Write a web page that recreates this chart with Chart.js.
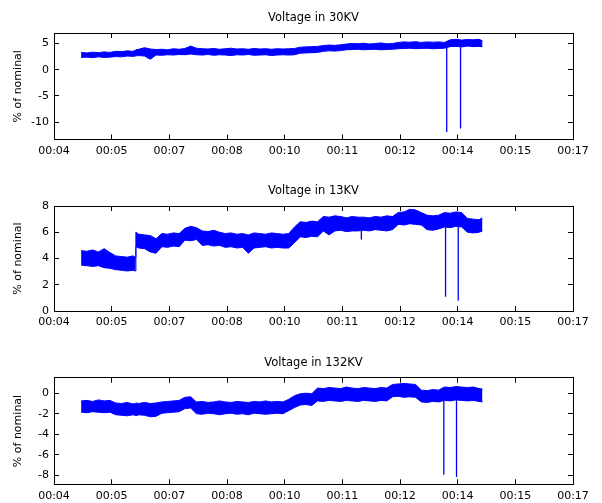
<!DOCTYPE html>
<html><head><meta charset="utf-8">
<script src="https://cdn.jsdelivr.net/npm/chart.js@4"></script>
<style>
html,body{margin:0;padding:0;background:#fff;width:602px;height:503px;overflow:hidden}
canvas{position:absolute;left:0}
</style>
</head><body>
<canvas id="c1" width="602" height="170" style="top:0px"></canvas>
<canvas id="c2" width="602" height="167" style="top:173px"></canvas>
<canvas id="c3" width="602" height="158" style="top:345px"></canvas>
<script>
// ---- data ----
const xTickVals = [0,1,2,3,4,5,6,7,8,9];
const xTickLabels = ['00:04','00:05','00:07','00:08','00:10','00:11','00:12','00:14','00:15','00:17'];

const t = [0.47,0.57,0.67,0.77,0.87,0.97,1.07,1.17,1.27,1.37,1.41,1.42,1.47,1.57,1.67,1.77,1.87,1.97,2.07,2.17,2.27,2.37,2.47,2.57,2.67,2.77,2.87,2.97,3.07,3.17,3.27,3.37,3.47,3.57,3.67,3.77,3.87,3.97,4.07,4.17,4.27,4.37,4.47,4.57,4.67,4.77,4.87,4.97,5.07,5.17,5.27,5.37,5.47,5.57,5.67,5.77,5.87,5.97,6.07,6.17,6.27,6.37,6.47,6.57,6.67,6.77,6.87,6.97,7.07,7.17,7.27,7.37,7.43];

// 30KV band (upper / lower edge)
const hi30 = [3.3,3.2,3.35,3.25,3.4,3.3,3.5,3.45,3.6,3.5,3.7,3.8,3.9,4.2,3.95,3.85,3.9,3.8,4.0,3.9,4.05,4.5,4.1,4.0,3.95,4.05,3.9,4.0,4.1,3.95,4.0,3.9,4.05,3.95,4.0,3.9,4.0,3.95,4.0,4.05,4.3,4.35,4.4,4.45,4.6,4.7,4.65,4.75,4.9,5.0,4.95,5.05,4.9,5.0,5.1,4.95,5.0,5.2,5.3,5.25,5.35,5.2,5.3,5.25,5.3,5.2,5.7,5.8,5.65,5.75,5.7,5.8,5.5];
const lo30 = [2.35,2.4,2.3,2.45,2.35,2.4,2.5,2.45,2.6,2.55,2.6,2.65,2.7,2.6,2.0,2.8,2.75,2.85,2.8,2.9,2.85,3.0,2.85,2.8,2.9,2.75,2.85,2.8,2.7,2.85,2.8,2.9,2.75,2.8,2.85,2.7,2.8,2.85,2.8,2.85,3.15,3.2,3.25,3.3,3.5,3.6,3.55,3.65,3.8,3.85,3.9,3.8,3.85,3.9,3.8,3.85,3.9,4.0,4.05,4.1,4.0,4.05,4.1,4.0,4.05,4.1,4.4,4.45,4.35,4.5,4.4,4.45,4.4];
const spikeT30 = [6.81, 7.05];
const spikeTop30 = [4.6, 4.8];
const spikeBot30 = [-11.85, -11.2];

// 13KV band
const hi13 = [4.6,4.55,4.65,4.5,4.75,4.45,4.2,4.15,4.1,4.2,4.1,6.0,5.85,5.8,5.75,5.5,5.9,5.85,5.95,5.9,6.3,6.45,6.35,6.1,6.05,6.15,6.0,5.9,5.95,5.85,5.9,5.8,5.95,5.9,5.85,5.95,5.9,5.85,5.9,6.4,6.8,6.75,6.85,6.8,7.2,7.15,7.25,7.2,7.1,7.2,7.15,7.15,7.1,7.2,7.15,7.25,7.2,7.5,7.55,7.75,7.7,7.5,7.3,7.25,7.3,7.5,7.45,7.55,7.5,7.05,7.0,6.95,7.1];
const lo13 = [3.5,3.45,3.4,3.45,3.3,3.25,3.15,3.1,3.05,3.1,3.05,4.9,4.8,4.75,4.5,4.4,4.9,4.85,4.95,4.9,5.4,5.35,5.45,5.0,5.05,4.95,5.0,4.85,4.9,4.8,4.85,4.4,4.8,4.85,4.9,4.8,4.85,4.8,4.8,5.2,5.65,5.6,5.7,5.65,6.1,5.8,6.1,6.15,6.05,6.1,6.1,6.15,6.1,6.2,6.15,6.1,6.2,6.6,6.55,6.65,6.6,6.55,6.2,6.15,6.25,6.4,6.35,6.45,6.4,6.0,5.95,6.0,6.1];
const spikeT13 = [5.33, 6.79, 7.01];
const spikeTop13 = [6.2, 6.6, 6.6];
const spikeBot13 = [5.45, 1.09, 0.78];

// 132KV band
const hi132 = [-0.75,-0.7,-0.8,-0.65,-0.75,-0.7,-0.95,-1.0,-0.9,-1.05,-1.0,-0.95,-1.0,-0.9,-1.0,-0.95,-0.85,-0.8,-0.75,-0.7,-0.4,-0.35,-0.85,-0.8,-0.9,-0.85,-0.75,-0.85,-0.9,-0.8,-0.85,-0.9,-0.8,-0.85,-0.75,-0.85,-0.8,-0.85,-0.6,-0.25,-0.05,0.0,-0.05,0.5,0.45,0.55,0.5,0.45,0.6,0.5,0.45,0.55,0.5,0.45,0.55,0.5,0.85,0.9,0.95,0.9,0.85,0.3,0.25,0.35,0.3,0.6,0.55,0.65,0.6,0.55,0.6,0.45,0.4];
const lo132 = [-1.85,-1.9,-1.8,-1.85,-1.9,-1.85,-2.1,-2.15,-2.2,-2.1,-2.15,-2.2,-2.1,-2.15,-2.3,-2.25,-1.95,-1.9,-1.85,-1.8,-1.5,-1.45,-2.0,-2.05,-1.95,-2.0,-2.1,-2.0,-1.95,-2.05,-2.0,-2.1,-1.95,-2.0,-2.05,-2.0,-1.95,-2.0,-1.7,-1.4,-1.15,-1.1,-1.2,-0.75,-0.8,-0.7,-0.75,-0.8,-0.7,-0.75,-0.8,-0.7,-0.75,-0.8,-0.7,-0.75,-0.35,-0.3,-0.4,-0.35,-0.4,-0.85,-0.9,-0.8,-0.85,-0.7,-0.75,-0.65,-0.7,-0.75,-0.7,-0.8,-0.85];
const spikeT132 = [6.76, 6.98];
const spikeTop132 = [-0.3, -0.3];
const spikeBot132 = [-7.94, -8.16];

const yTicks30 = [-10,-5,0,5];
const yTicks13 = [0,2,4,6,8];
const yTicks132 = [-8,-6,-4,-2,0];

const titles = ['Voltage in 30KV','Voltage in 13KV','Voltage in 132KV'];
const yTitle = '% of nominal';

// ---- drawing ----
Chart.defaults.font.family = "'DejaVu Sans', 'Liberation Sans', sans-serif";
Chart.defaults.font.size = 11;
Chart.defaults.color = '#000';
const BLUE = '#0000ff';

function pts(xs, ys) { return xs.map((x, i) => ({x: x, y: ys[i]})); }
function spikePts(xs, tops, bots) {
  const out = [];
  xs.forEach((x, i) => { out.push({x: x, y: tops[i]}, {x: x, y: bots[i]}, {x: x, y: null}); });
  return out;
}

// inward tick marks + axis line on every side of the box
const inGrid = {display: true, drawOnChartArea: false, drawTicks: true, tickLength: -5, color: '#000', lineWidth: 1};
const boxBorder = {display: true, color: '#000', width: 1};

function makeChart(id, title, hi, lo, sT, sTop, sBot, yMin, yMax, yTicks, topH, xAxisH) {
  const setX = s => { s.ticks = xTickVals.map(v => ({value: v})); };
  const setY = s => { s.ticks = yTicks.map(v => ({value: v})); };
  new Chart(document.getElementById(id), {
    type: 'line',
    data: {
      datasets: [
        {data: pts(t, hi), borderColor: BLUE, backgroundColor: BLUE, borderWidth: 1, pointRadius: 0, fill: '+1', tension: 0},
        {data: pts(t, lo), borderColor: BLUE, backgroundColor: BLUE, borderWidth: 1, pointRadius: 0, fill: false, tension: 0},
        {data: spikePts(sT, sTop, sBot), borderColor: BLUE, borderWidth: 1.3, pointRadius: 0, fill: false, spanGaps: false}
      ]
    },
    options: {
      responsive: false,
      animation: false,
      devicePixelRatio: 1,
      layout: {padding: {left: 0, right: 29, top: 0, bottom: 0}},
      plugins: {
        legend: {display: false},
        tooltip: {enabled: false},
        title: {display: false}
      },
      scales: {
        x: {
          type: 'linear', position: 'bottom', min: 0, max: 9,
          grid: inGrid, border: boxBorder,
          afterBuildTicks: setX,
          afterFit: s => { s.height = xAxisH; },
          ticks: {autoSkip: false, maxRotation: 0, padding: 10, callback: (v, i) => xTickLabels[i]}
        },
        x2: {
          type: 'linear', axis: 'x', position: 'top', min: 0, max: 9,
          grid: inGrid, border: boxBorder,
          afterBuildTicks: setX,
          afterFit: s => { s.height = topH; },
          ticks: {display: false},
          title: {display: true, text: title, font: {size: 11.5}, padding: {top: 11.1, bottom: 0}}
        },
        y: {
          type: 'linear', position: 'left', min: yMin, max: yMax,
          grid: inGrid, border: boxBorder,
          afterBuildTicks: setY,
          afterFit: s => { s.width = 54; },
          ticks: {padding: 10, callback: v => String(v)},
          title: {display: true, text: yTitle, font: {size: 11}, padding: {top: 11.4, bottom: 0}}
        },
        y2: {
          type: 'linear', axis: 'y', position: 'right', min: yMin, max: yMax,
          grid: inGrid, border: boxBorder,
          afterBuildTicks: setY,
          afterFit: s => { s.width = 0; },
          ticks: {display: false}
        }
      }
    }
  });
}

makeChart('c1', titles[0], hi30, lo30, spikeT30, spikeTop30, spikeBot30, -13.3, 7.0, yTicks30, 33, 30.5);
makeChart('c2', titles[1], hi13, lo13, spikeT13, spikeTop13, spikeBot13, 0, 8, yTicks13, 33, 29);
makeChart('c3', titles[2], hi132, lo132, spikeT132, spikeTop132, spikeBot132, -8.87, 1.51, yTicks132, 32.7, 18.7);
</script>
</body></html>
